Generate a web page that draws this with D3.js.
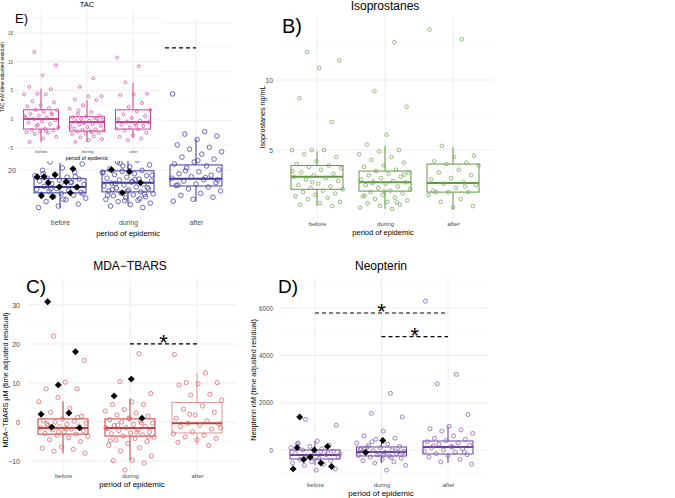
<!DOCTYPE html>
<html><head><meta charset="utf-8">
<script src="https://cdn.jsdelivr.net/npm/d3@7"></script>
<style>body{margin:0;background:#fff}svg{display:block}</style>
</head><body>
<svg id="c" width="675" height="498"></svg>
<script>
const categories = ["before","during","after"];
const xTitleText = "period of epidemic";

// ---- Panel A (blue, partly hidden behind TAC inset) ----
const aBefore = [21.6,21.2,20.4,19.9,19.5,19.0,18.8,18.5,18.3,18.1,17.9,17.7,17.5,17.2,17.0,16.8,16.6,16.4,16.2,16.0,15.8,15.6,15.4,15.2,15.0,14.8,14.5,14.2,13.9,13.5,13.0,12.6,12.3,17.4,16.1,15.1,14.0,19.2,18.6];
const aDuring = [22.0,21.6,21.0,20.6,20.2,19.9,19.7,19.5,19.2,19.0,18.8,18.5,18.3,18.1,17.9,17.7,17.5,17.3,17.1,16.9,16.7,16.5,16.3,16.1,15.9,15.7,15.5,15.3,15.1,14.9,14.7,14.5,14.3,14.0,13.8,13.5,13.2,12.9,12.6,12.3,20.8,19.4,18.0,17.2,16.4,15.6,14.8,14.1,21.4,18.9,17.6,16.0,15.0,13.7];
const aAfter = [35.5,27.8,27.3,26.9,26.2,25.1,24.6,24.2,23.7,23.2,22.6,22.2,21.6,21.2,20.8,20.4,20.0,19.6,19.2,18.9,18.6,18.3,18.0,17.7,17.4,17.1,16.8,16.5,16.1,15.7,15.2,14.8,14.4,14.0,13.6,18.4,19.8,17.9,21.9,16.9];
const aDiamBefore = [18.6,20.2,19.0,18.6,17.55,17.35,16.5,16.5,14.7,15.3,14.5];
const aDiamDuring = [19.6,20.0,17.35,15.3];
const aBox = [[12.2,15.3,16.5,18.2,21.4],[12.9,15.5,17.35,19.8,24.0],[13.5,16.7,18.2,21.0,26.3]];
const aTicks = [20,30,40,50];
const aTickLabels = [20];           // the other labels are covered by the TAC inset
const aMinor = [15,25,35,45];
const aSig = [{from:"before",to:"after",v:44.9}];

// ---- Panel E (TAC inset) ----
const tacBefore = [11.7,9.4,7.6,5.6,5.2,4.4,4.3,4.3,3.1,2.9,2.4,2.2,1.9,1.6,1.5,1.3,0.9,0.8,0.6,0.3,0.2,0.0,-0.2,-0.4,-0.6,-0.9,-1.2,-1.4,-1.7,-1.9,-2.0,-2.2,-2.3,-2.4,-2.6,-3.1,-3.4,-4.0,1.0,-1.0,0.5,-2.1];
const tacDuring = [7.1,5.6,4.0,3.9,3.4,3.3,2.4,1.8,1.2,0.9,0.6,0.4,0.3,0.2,0.0,-0.1,-0.3,-0.4,-0.5,-0.6,-0.8,-0.9,-1.0,-1.2,-1.4,-1.6,-1.8,-1.9,-2.0,-2.1,-2.2,-2.4,-2.5,-2.7,-3.0,-3.2,-3.5,-3.7,-4.0,0.1,-0.7,-1.5,-2.3,1.5];
const tacAfter = [10.7,9.2,6.4,4.4,4.3,4.2,2.8,2.1,1.6,1.3,0.8,0.5,0.2,0.0,-0.3,-0.5,-0.6,-0.8,-1.0,-1.2,-1.5,-1.7,-1.8,-2.0,-2.4,-2.8,-3.1,-3.4,-3.7,-0.4,-1.1];
const tacBox = [[-4.0,-1.75,0.0,1.6,5.3],[-4.0,-2.1,-0.5,0.4,3.3],[-3.3,-1.75,-0.5,1.6,6.3]];
const tacTicks = [-5,0,5,10,15];
const tacMinor = [-2.5,2.5,7.5,12.5,17.5];

// ---- Panel B (Isoprostanes) ----
const isoBefore = [12.0,11.4,10.85,8.7,7.0,5.0,5.0,5.0,4.7,4.5,4.2,4.0,3.9,3.8,3.7,3.6,3.4,3.3,3.2,3.1,3.0,2.9,2.8,2.6,2.5,2.4,2.3,2.2,2.1,2.0,1.9,1.8,1.7,1.6,1.5,1.3,1.2,1.1,1.0,2.7,3.5];
const isoDuring = [12.7,9.2,8.1,6.1,5.4,5.0,4.9,4.7,4.5,4.3,4.1,3.9,3.8,3.6,3.5,3.4,3.3,3.2,3.1,3.0,2.9,2.8,2.75,2.7,2.6,2.5,2.4,2.3,2.2,2.1,2.0,1.9,1.8,1.7,1.6,1.5,1.4,1.3,1.2,1.1,1.0,0.9,0.8,2.65,3.25,2.05,1.75,1.25];
const isoAfter = [13.6,12.9,5.3,4.6,4.5,4.2,4.1,4.0,3.9,3.6,3.4,3.2,3.0,2.9,2.7,2.6,2.5,2.3,2.0,2.0,2.0,1.8,1.5,1.3,1.0,0.9,2.1,2.4];
const isoBox = [[1.0,2.2,3.1,3.9,4.9],[0.8,2.07,2.7,3.5,5.3],[0.8,2.0,2.65,4.0,5.2]];
const isoTicks = [5,10];
const isoMinor = [2.5,7.5,12.5];

// ---- Panel C (MDA-TBARS) ----
const mdaBefore = [22.0,15.8,10.2,8.5,8.5,6.3,5.2,3.5,2.5,1.5,0.8,0.4,0.2,0.0,-0.3,-0.6,-0.8,-1.0,-1.2,-1.5,-1.8,-2.0,-2.3,-2.6,-2.9,-3.1,-3.4,-3.7,-4.0,-4.5,-5.0,-6.4,-6.7,-7.0,-7.5,-8.0,-1.7,-0.5,1.2,-2.5];
const mdaDuring = [17.5,10.4,7.3,5.2,4.5,4.5,3.2,2.8,2.3,1.8,1.5,1.0,0.6,0.3,0.0,-0.3,-0.6,-0.9,-1.1,-1.4,-1.7,-2.0,-2.2,-2.5,-2.8,-3.0,-3.3,-3.6,-3.9,-4.2,-4.6,-5.0,-5.5,-6.0,-6.6,-7.4,-8.7,-9.8,-9.9,-10.5,-12.3,-1.5,-2.6,-0.8,-3.8,0.8,-4.8,-0.2];
const mdaAfter = [17.3,12.6,10.1,10.1,9.8,9.5,7.1,6.9,5.6,4.1,3.3,2.5,1.8,1.0,0.3,-0.3,-0.5,-0.8,-1.2,-1.8,-2.5,-3.0,-3.4,-3.8,-4.2,-4.6,-5.2,-6.0,2.0,-1.5];
const mdaDiamBefore = [30.8,18.0,9.5,2.0,2.3,-1.3,-1.5];
const mdaDiamDuring = [11.0,6.7,1.0];
const mdaBox = [[-8.0,-3.1,-1.5,0.8,5.3],[-9.8,-3.6,-1.5,0.8,6.0],[-5.9,-2.8,-0.3,5.0,12.5]];
const mdaTicks = [-10,0,10,20,30];
const mdaMinor = [-5,5,15,25,35];
const mdaSig = [{from:"during",to:"after",v:20}];

// ---- Panel D (Neopterin) ----
const neoBefore = [1300,1050,380,300,200,150,100,50,0,-50,-100,-150,-200,-250,-300,-350,-400,-450,-500,-550,-600,-650,-800,-850,250,-120,-280,-180,-70];
const neoDuring = [2400,1550,1400,800,600,500,450,300,250,200,150,100,50,0,-30,-60,-100,-130,-160,-200,-230,-260,-300,-350,-400,-450,-500,-550,-650,-850,120,-80,-180,20,-320,350,-120,-220,70,-40];
const neoAfter = [6300,3200,2800,1500,1000,900,850,800,700,600,500,450,400,350,300,250,200,150,100,50,0,-50,-100,-150,-200,-250,-300,-400,-500,-600,120,180,-80];
const neoDiamBefore = [1400,150,-300,-800,-550,-400,-700,0,100];
const neoDiamDuring = [400,-100];
const neoBox = [[-640,-380,-210,0,380],[-550,-254,-85,127,508],[-550,-170,127,381,1017]];
const neoTicks = [0,2000,4000,6000];
const neoMinor = [-1000,1000,3000,5000,7000];
const neoSig = [{from:"before",to:"after",v:5800},{from:"during",to:"after",v:4800}];

const FONT = "'Liberation Sans', Arial, Helvetica, sans-serif";
const svg = d3.select("#c");
svg.append("rect").attr("width",675).attr("height",498).attr("fill","#fff");

function jit(i, k){ return (((i + 0.5) * 0.6180339887 + k * 0.37) % 1) * 2 - 1; }

function drawPanel(c){
  const g = svg.append("g");
  if (c.bg) g.append("rect").attr("x",c.bg[0]).attr("y",c.bg[1]).attr("width",c.bg[2]).attr("height",c.bg[3]).attr("fill","#fff");
  const x = d3.scalePoint().domain(categories).range(c.xr);
  const y = d3.scaleLinear().domain(c.yd).range(c.yr);
  const grid = g.append("g");
  grid.selectAll("line.mn").data(c.minor).join("line").attr("class","mn")
    .attr("x1",c.gx[0]).attr("x2",c.gx[1]).attr("y1",d=>y(d)).attr("y2",d=>y(d))
    .attr("stroke","#f1f1f1").attr("stroke-width",0.5);
  grid.selectAll("line.mj").data(c.major).join("line").attr("class","mj")
    .attr("x1",c.gx[0]).attr("x2",c.gx[1]).attr("y1",d=>y(d)).attr("y2",d=>y(d))
    .attr("stroke","#e8e8e8").attr("stroke-width",0.8);
  grid.selectAll("line.vx").data(categories).join("line").attr("class","vx")
    .attr("x1",d=>x(d)).attr("x2",d=>x(d)).attr("y1",c.yr[1]).attr("y2",c.yr[0])
    .attr("stroke","#e8e8e8").attr("stroke-width",0.8);

  const ya = g.append("g").attr("transform",`translate(${c.tickX},0)`)
    .call(d3.axisLeft(y).tickValues(c.labels || c.major).tickSize(0).tickPadding(0).tickFormat(d3.format("d")));
  ya.select(".domain").remove();
  ya.selectAll("text").attr("font-size",c.tickFs).attr("fill","#4d4d4d").attr("font-family",FONT);

  const xa = g.append("g").attr("transform",`translate(0,${c.xLabY - 0.36*c.xLabFs})`)
    .call(d3.axisBottom(x).tickSize(0).tickPadding(0));
  xa.select(".domain").remove();
  xa.selectAll("text").attr("font-size",c.xLabFs).attr("fill","#4d4d4d").attr("font-family",FONT);

  g.append("text").attr("x",c.xTitle[0]).attr("y",c.xTitle[1] + 0.35*c.xTitleFs).attr("text-anchor","middle")
    .attr("font-size",c.xTitleFs).attr("font-family",FONT).attr("fill","#000").text(xTitleText);
  if (c.yTitle) g.append("text").attr("transform",`translate(${c.yTitle[0] + 0.35*c.yTitleFs},${c.yTitle[1]}) rotate(-90)`)
    .attr("text-anchor","middle").attr("font-size",c.yTitleFs).attr("font-family",FONT).attr("fill","#000").text(c.yTitle[2]);
  if (c.title) g.append("text").attr("x",c.title[0]).attr("y",c.title[1]).attr("text-anchor","middle")
    .attr("font-size",c.titleFs).attr("font-family",FONT).attr("fill","#000").text(c.title[2]);
  if (c.tag) g.append("text").attr("x",c.tag[0]).attr("y",c.tag[1])
    .attr("font-size",c.tagFs).attr("font-family",FONT).attr("fill","#000").text(c.tag[2]);

  // boxes
  c.boxes.forEach((b,i)=>{
    const cx = x(categories[i]);
    const [lo,q1,md,q3,hi] = b;
    const col = (c.boxColors && c.boxColors[i]) || c.boxColor;
    g.append("line").attr("x1",cx).attr("x2",cx).attr("y1",y(hi)).attr("y2",y(q3)).attr("stroke",col).attr("stroke-width",1);
    g.append("line").attr("x1",cx).attr("x2",cx).attr("y1",y(q1)).attr("y2",y(lo)).attr("stroke",col).attr("stroke-width",1);
    g.append("rect").attr("x",cx-c.hw).attr("y",y(q3)).attr("width",2*c.hw).attr("height",y(q1)-y(q3))
      .attr("fill","none").attr("stroke",col).attr("stroke-width",1);
    g.append("line").attr("x1",cx-c.hw).attr("x2",cx+c.hw).attr("y1",y(md)).attr("y2",y(md))
      .attr("stroke",c.medColor||col).attr("stroke-width",2);
  });
  // points
  c.groups.forEach((vals,i)=>{
    const cx = x(categories[i]);
    g.append("g").selectAll("circle").data(vals).join("circle")
      .attr("cx",(d,j)=>cx + jit(j,i)*c.hw*c.jw).attr("cy",d=>y(d)).attr("r",c.r)
      .attr("fill","none").attr("stroke",c.ptColor).attr("stroke-width",0.8);
  });
  // diamonds
  if (c.diamonds) c.diamonds.forEach((vals,i)=>{
    const cx = x(categories[i]);
    const sym = d3.symbol().type(d3.symbolSquare).size(c.dSize)();
    g.append("g").selectAll("path").data(vals).join("path")
      .attr("d",sym)
      .attr("transform",(d,j)=>`translate(${cx + jit(j,i+5)*c.hw*0.9},${y(d)}) rotate(45)`)
      .attr("fill","#000");
  });
  // significance
  if (c.sig) c.sig.forEach(s=>{
    const x1 = x(s.from), x2 = x(s.to), yy = y(s.v);
    g.append("line").attr("x1",x1).attr("x2",x2).attr("y1",yy).attr("y2",yy)
      .attr("stroke","#000").attr("stroke-width",1.2).attr("stroke-dasharray","4,3");
    if (c.starFs) g.append("text").attr("x",(x1+x2)/2).attr("y",yy - 7 + 0.59*c.starFs).attr("text-anchor","middle")
      .attr("font-size",c.starFs).attr("font-family",FONT).attr("fill","#000").text("*");
  });
}

// Panel A (blue) -- its star and title are hidden beneath the inset
drawPanel({
  xr:[60,196], yd:[11.8,51.2], yr:[210,17], gx:[20,232],
  major:aTicks, labels:aTickLabels, minor:aMinor, tickX:16, tickFs:7.2,
  xLabY:223, xLabFs:6.8, xTitle:[128,233], xTitleFs:7.8,
  groups:[aBefore,aDuring,aAfter], diamonds:[aDiamBefore,aDiamDuring], dSize:24,
  boxes:aBox, hw:26, jw:1.0, r:2.3, ptColor:"#4848a8", boxColor:"#3a3a9e",
  sig:aSig
});
// Panel E (TAC inset)
drawPanel({
  bg:[0,0,162,161],
  xr:[41,133], yd:[-5.4,19], yr:[150,10], gx:[15,160],
  major:tacTicks, minor:tacMinor, tickX:13, tickFs:4.5,
  xLabY:152, xLabFs:4.2, xTitle:[87,158], xTitleFs:5.2,
  yTitle:[2.5,77,"TAC mM (time adjusted residual)"], yTitleFs:4.8,
  title:[87,7,"TAC"], titleFs:7.5, tag:[15,23,"E)"], tagFs:13,
  groups:[tacBefore,tacDuring,tacAfter], boxes:tacBox, hw:17.5, jw:1.0, r:1.5,
  ptColor:"#d65aa8", boxColor:"#cc3f94"
});
// Panel B
drawPanel({
  xr:[317,453], yd:[0.15,14.6], yr:[218,15.6], gx:[277,494],
  major:isoTicks, minor:isoMinor, tickX:273, tickFs:6.8,
  xLabY:224, xLabFs:6.2, xTitle:[383,232], xTitleFs:7.5,
  yTitle:[262,117,"Isoprostanes ng/mL"], yTitleFs:7.2,
  title:[385,10,"Isoprostanes"], titleFs:12, tag:[282,33,"B)"], tagFs:20,
  groups:[isoBefore,isoDuring,isoAfter], boxes:isoBox, hw:26, jw:1.0, r:1.8,
  ptColor:"#78a95a", boxColor:"#5e9a40"
});
// Panel C
drawPanel({
  xr:[63,197], yd:[-12.8,36.9], yr:[472,278], gx:[28,237],
  major:mdaTicks, minor:mdaMinor, tickX:20, tickFs:7,
  xLabY:476, xLabFs:6, xTitle:[132,484], xTitleFs:8,
  yTitle:[5,380,"MDA\u2212TBARS \u00b5M (time adjusted residual)"], yTitleFs:7.3,
  title:[130,270,"MDA\u2212TBARS"], titleFs:12, tag:[26,293,"C)"], tagFs:19,
  groups:[mdaBefore,mdaDuring,mdaAfter], diamonds:[mdaDiamBefore,mdaDiamDuring], dSize:24,
  boxes:mdaBox, hw:25, jw:1.0, r:2.1, ptColor:"#d86a6a", boxColor:"#c53a3a",
  boxColors:["#c53a3a","#c53a3a","#e59595"], medColor:"#c53a3a",
  sig:mdaSig, starFs:22
});
// Panel D
drawPanel({
  xr:[315,448], yd:[-1300,7300], yr:[480.7,277.6], gx:[280,487],
  major:neoTicks, minor:neoMinor, tickX:273, tickFs:6.3,
  xLabY:485, xLabFs:6, xTitle:[381,493.5], xTitleFs:8,
  yTitle:[253,380,"Neopterin nM (time adjusted residual)"], yTitleFs:7.3,
  title:[381,270,"Neopterin"], titleFs:12, tag:[278,293,"D)"], tagFs:19,
  groups:[neoBefore,neoDuring,neoAfter], diamonds:[neoDiamBefore,neoDiamDuring], dSize:24,
  boxes:neoBox, hw:25, jw:1.0, r:2.0, ptColor:"#8862b8", boxColor:"#6a3fa0",
  sig:neoSig, starFs:22
});
</script>
</body></html>
